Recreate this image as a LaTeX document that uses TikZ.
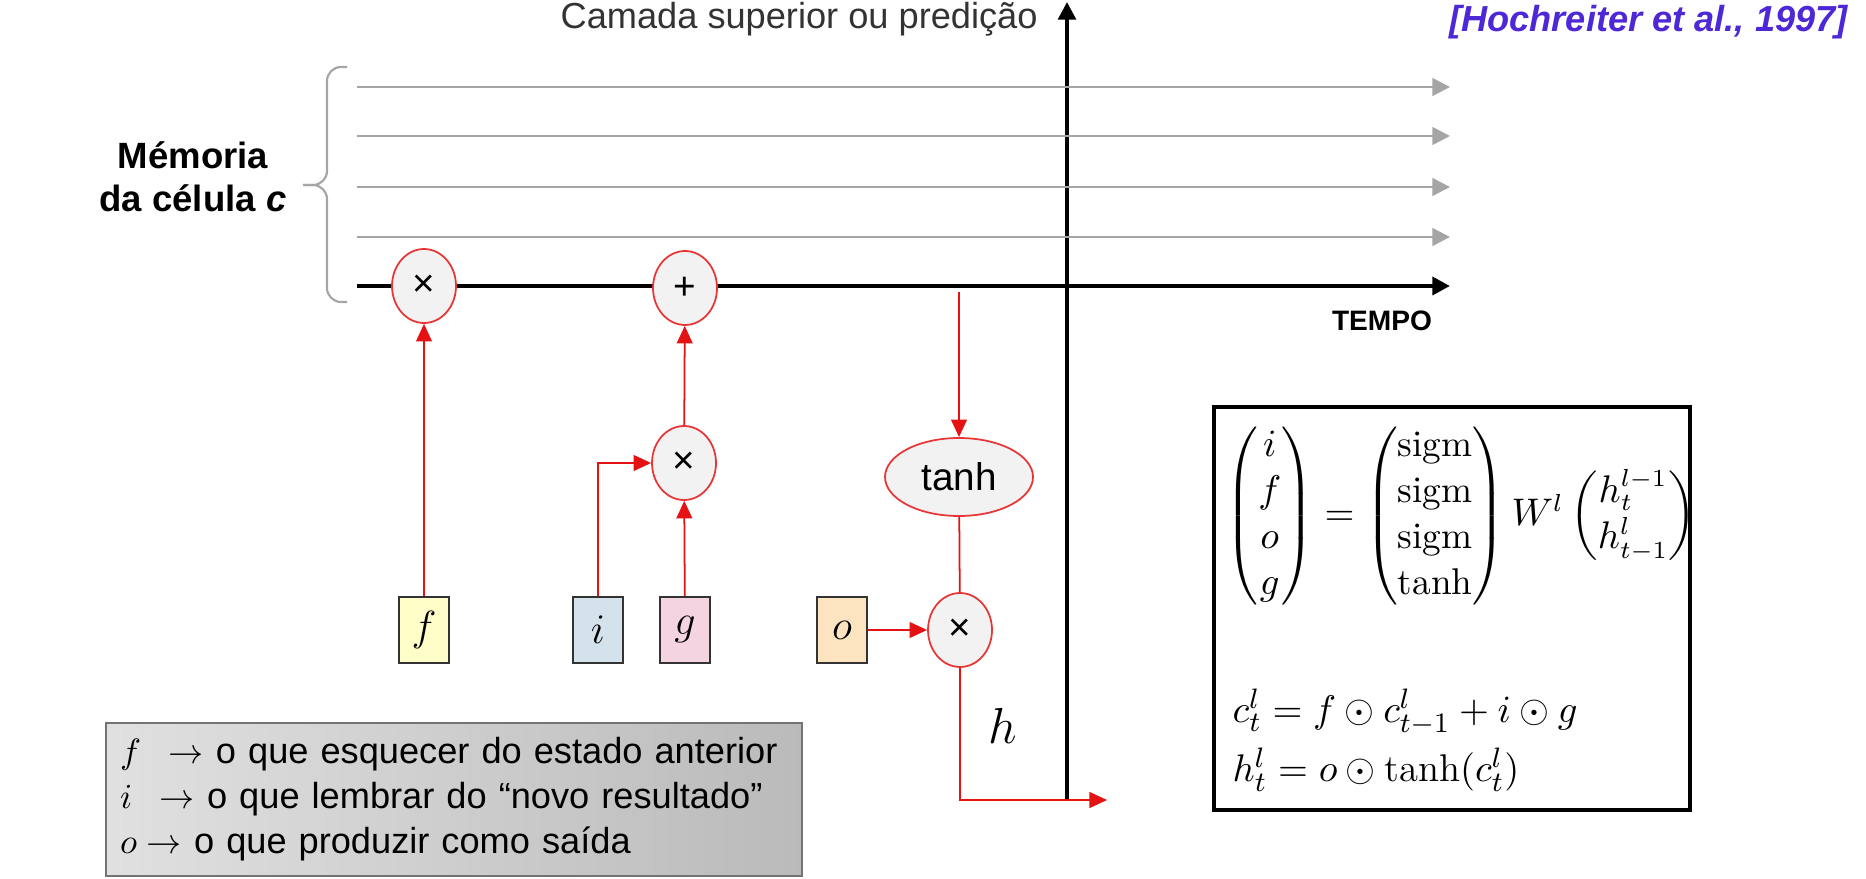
\documentclass[tikz,border=0pt]{standalone}
\usepackage{amsmath}
\usepackage{amssymb}
\usepackage{fontspec}
\setsansfont{Liberation Sans}
\usetikzlibrary{
    positioning,
    arrows.meta,
    shapes.geometric
}
\definecolor{gateRed}{RGB}{228,18,18}
\definecolor{opFill}{RGB}{242,242,242}
\definecolor{fFill}{RGB}{255,253,200}
\definecolor{iFill}{RGB}{212,226,236}
\definecolor{gFill}{RGB}{243,212,224}
\definecolor{oFill}{RGB}{252,228,192}
\definecolor{refBlue}{RGB}{78,40,215}
\definecolor{memGray}{RGB}{165,165,165}
\tikzset{
    >=Stealth,
    opnode/.style={
        ellipse, draw=gateRed!85, fill=opFill, line width=0.5pt,
        minimum width=0.64cm, minimum height=0.74cm, inner sep=0pt,
        font=\sffamily\fontsize{11}{11}\selectfont
    },
    tanhnode/.style={
        opnode, minimum width=1.48cm, minimum height=0.78cm,
        font=\sffamily\fontsize{11}{11}\selectfont
    },
    gatebox/.style={
        rectangle, draw=black!80, line width=0.6pt,
        minimum width=0.5cm, minimum height=0.66cm, inner sep=0pt,
        font=\fontsize{13}{13}\selectfont
    },
    flow/.style={
        draw=gateRed, line width=0.5pt,
        -{Triangle[length=5pt,width=4.5pt]}
    },
    redline/.style={draw=gateRed, line width=0.5pt},
    memline/.style={
        draw=memGray, line width=0.7pt,
        -{Triangle[length=5pt,width=5pt]}
    },
    timeline/.style={
        draw=black, line width=1.4pt,
        -{Triangle[length=5pt,width=5pt]}
    }
}

\begin{document}
\begin{tikzpicture}[
    sans/.style={font=\sffamily\fontsize{10.3}{12.4}\selectfont},
    mathtext/.style={anchor=west, inner sep=0pt,
        font=\fontsize{10.6}{13.1}\selectfont}
]
    \useasboundingbox (0,0) rectangle (18.66,-8.78);

    % Eixos
    \coordinate (axisbot) at (10.67,-8.00);
    \coordinate (axistop) at (10.67,-0.02);
    \draw[line width=1.1pt, -{Triangle[length=5pt,width=5pt]}]
        (axisbot) -- (axistop);
    \node[sans, text=black!80, anchor=east] (upper) at (10.50,-0.19)
        {Camada superior ou predição};
    \node[font=\sffamily\bfseries\itshape\fontsize{10.3}{12}\selectfont,
          text=refBlue, anchor=east] (cite) at (18.60,-0.22)
        {[Hochreiter et al., 1997]};

    % Memoria da celula
    \foreach \y [count=\k] in {0.87,1.36,1.87,2.37} {
        \coordinate (m\k a) at (3.57,-\y);
        \coordinate (m\k b) at (14.50,-\y);
        \draw[memline] (m\k a) -- (m\k b);
    }
    \coordinate (cstart) at (3.57,-2.86);
    \coordinate (cend)   at (14.50,-2.86);
    \draw[timeline] (cstart) -- (cend);
    \node[font=\sffamily\bfseries\fontsize{8}{8}\selectfont] (tempo)
        at (13.82,-3.21) {TEMPO};

    \draw[memGray, line width=0.6pt, rounded corners=4pt]
        (3.47,-0.67) -- (3.27,-0.67) -- (3.27,-1.85) -- (3.03,-1.85);
    \draw[memGray, line width=0.6pt, rounded corners=4pt]
        (3.03,-1.85) -- (3.27,-1.85) -- (3.27,-3.02) -- (3.47,-3.02);
    \node[font=\sffamily\bfseries\fontsize{10.4}{12.3}\selectfont,
          align=center] (memlabel) at (1.93,-1.77)
        {Mémoria\\da célula \textit{c}};

    % Operacoes
    \node[opnode]   (mulF)  at (4.24,-2.86) {×};
    \node[opnode]   (addC)  at (6.85,-2.88) {+};
    \node[opnode]   (mulI)  at (6.84,-4.63) {×};
    \node[tanhnode] (tanhC) at (9.59,-4.77) {tanh};
    \node[opnode]   (mulO)  at (9.60,-6.30) {×};

    % Portas
    \node[gatebox, fill=fFill] (f) at (4.24,-6.30) {$f$};
    \node[gatebox, fill=iFill] (i) at (5.98,-6.30) {$i$};
    \node[gatebox, fill=gFill] (g) at (6.85,-6.30) {$g$};
    \node[gatebox, fill=oFill] (o) at (8.42,-6.30) {$o$};

    % Fluxos
    \coordinate (ctap) at (9.59,-2.92);
    \coordinate (hout) at (11.07,-8.00);
    \draw[flow] (f) -- (mulF);
    \draw[flow] (g) -- (mulI);
    \draw[flow] (i.north) |- (mulI.west);
    \draw[flow] (mulI) -- (addC);
    \draw[flow] (ctap) -- (tanhC);
    \draw[redline] (tanhC) -- (mulO);
    \draw[flow] (o) -- (mulO);
    \draw[flow] (mulO.south) |- (hout);
    \node[font=\fontsize{14}{14}\selectfont] (hlabel) at (10.03,-7.26) {$h$};

    % Legenda
    \node[draw=black!55, line width=0.6pt, left color=black!12,
          right color=black!27, anchor=north west,
          minimum width=6.96cm, minimum height=1.53cm,
          inner xsep=0.14cm, text width=6.68cm, align=left,
          font=\sffamily\fontsize{10.3}{12.8}\selectfont] (legend)
        at (1.05,-7.22)
        {$f\ \,\rightarrow$ o que esquecer do estado anterior\\
         $i\ \,\rightarrow$ o que lembrar do “novo resultado”\\
         $o\rightarrow$ o que produzir como saída};

    % Equacoes
    \node[draw=black, line width=1pt, minimum width=4.76cm,
          minimum height=4.03cm] (eqframe) at (14.52,-6.085) {};
    \node[mathtext] (eqgates) at (12.25,-5.16)
        {$\begin{pmatrix} i\\ f\\ o\\ g \end{pmatrix}
          = \begin{pmatrix} \mathrm{sigm}\\ \mathrm{sigm}\\
              \mathrm{sigm}\\ \tanh \end{pmatrix}
          W^l \begin{pmatrix} h_t^{l-1}\\ h_{t-1}^l \end{pmatrix}$};
    \node[mathtext, font=\fontsize{11}{13}\selectfont] (eqcell)
        at (12.32,-7.12) {$c_t^l = f \odot c_{t-1}^l + i \odot g$};
    \node[mathtext, font=\fontsize{11}{13}\selectfont] (eqhid)
        at (12.32,-7.70) {$h_t^l = o \odot \tanh(c_t^l)$};

\end{tikzpicture}
\end{document}
